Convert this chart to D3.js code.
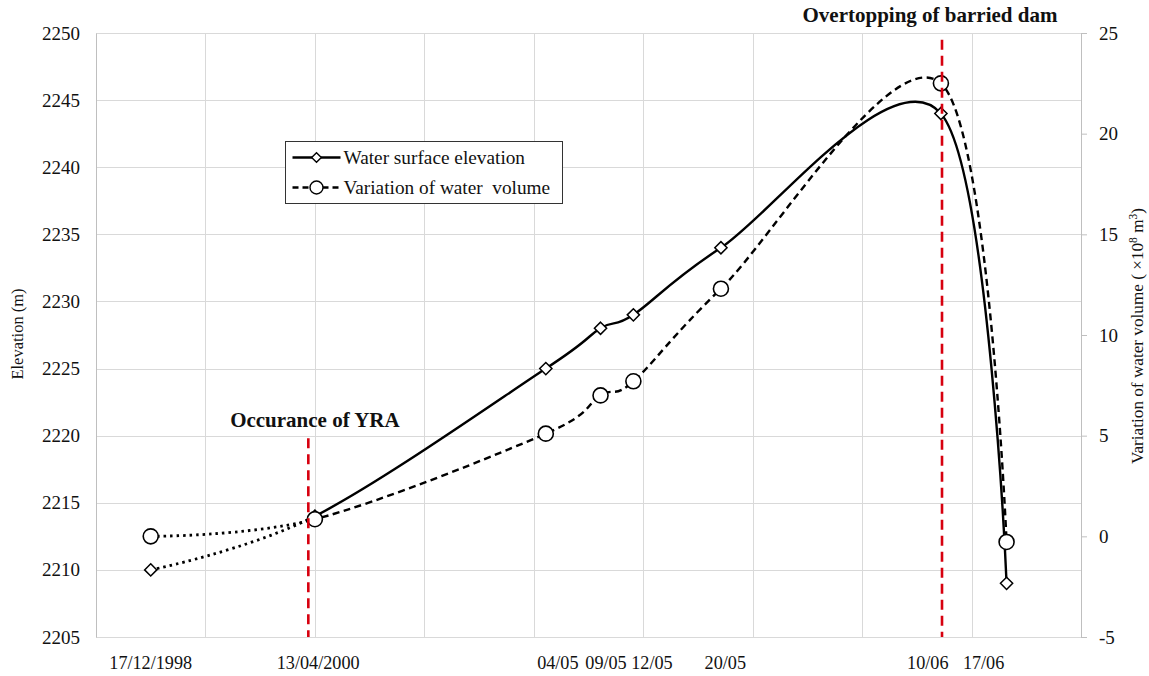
<!DOCTYPE html>
<html><head><meta charset="utf-8">
<script src="https://cdn.jsdelivr.net/npm/d3@7"></script>
<style>body{margin:0;background:#fff}</style>
</head><body><svg id="chart" width="1149" height="676"></svg>
<script>
// Yigong barrier lake: water level and stored volume
const seriesNames = ["Water surface elevation", "Variation of water volume"];
const positions = [0.5, 2.0, 4.11, 4.61, 4.91, 5.71, 7.72, 8.32];   // horizontal slot of each observation
const elevation = [2210, 2214, 2225, 2228, 2229, 2234, 2244, 2209]; // m
const volume = [0, 0.85, 5.1, 7.0, 7.7, 12.3, 22.5, -0.28];         // 10^8 m^3
const tickLabels = ["17/12/1998", "13/04/2000", "04/05", "09/05", "12/05", "20/05", "10/06", "17/06"];
const tickLabelPositions = [0.5, 2.03, 4.22, 4.66, 5.08, 5.75, 7.6, 8.11];
const elevationTicks = d3.range(2205, 2251, 5);
const volumeTicks = d3.range(-5, 26, 5);
const eventLabels = ["Occurance of YRA", "Overtopping of barried dam"];
const eventPositions = [1.94, 7.73];
const eventTops = [2219.8, 2249.5];

const svg = d3.select("#chart");
const font = "'Liberation Serif','Times New Roman',serif";
const plotLeft = 96, plotRight = 1081, plotTop = 33, plotBottom = 637;

const x = d3.scaleLinear().domain([0, 9]).range([plotLeft, plotRight]);
const yL = d3.scaleLinear().domain([2205, 2250]).range([plotBottom, plotTop]);
const yR = d3.scaleLinear().domain([-5, 25]).range([plotBottom, plotTop]);

// grid
const grid = svg.append("g").attr("stroke", "#d9d9d9").attr("stroke-width", 1);
grid.selectAll("line.h").data(elevationTicks).join("line")
  .attr("x1", plotLeft).attr("x2", plotRight)
  .attr("y1", d => Math.round(yL(d)) + 0.5).attr("y2", d => Math.round(yL(d)) + 0.5);
grid.selectAll("line.v").data(d3.range(0, 10)).join("line")
  .attr("y1", plotTop).attr("y2", plotBottom)
  .attr("x1", d => Math.round(x(d)) + 0.5).attr("x2", d => Math.round(x(d)) + 0.5);

// axes
const axL = svg.append("g").attr("transform", `translate(${plotLeft},0)`)
  .call(d3.axisLeft(yL).tickValues(elevationTicks).tickSize(0).tickPadding(16).tickFormat(d => String(d)));
const axR = svg.append("g").attr("transform", `translate(${plotRight},0)`)
  .call(d3.axisRight(yR).tickValues(volumeTicks).tickSize(6).tickPadding(12).tickFormat(d => String(d)));
[axL, axR].forEach(a => {
  a.attr("font-family", font);
  a.select(".domain").attr("stroke", "#bfbfbf");
  a.selectAll(".tick line").attr("stroke", "#bfbfbf");
  a.selectAll("text").attr("font-family", font).attr("font-size", 19).attr("fill", "#111");
});

// date labels
svg.append("g").selectAll("text").data(tickLabels).join("text")
  .attr("x", (d, i) => x(tickLabelPositions[i]))
  .attr("y", 669)
  .attr("text-anchor", "middle")
  .attr("font-family", font).attr("font-size", 18.2).attr("fill", "#111")
  .text(d => d);

// axis titles
svg.append("text")
  .attr("transform", `translate(23,334) rotate(-90)`)
  .attr("text-anchor", "middle").attr("font-family", font).attr("font-size", 16.5).attr("fill", "#111")
  .text("Elevation (m)");
const rt = svg.append("text")
  .attr("transform", `translate(1143,336) rotate(-90)`)
  .attr("text-anchor", "middle").attr("font-family", font).attr("font-size", 17.2).attr("fill", "#111");
rt.append("tspan").text("Variation of water volume ( \u00d710");
rt.append("tspan").attr("dy", -6).attr("font-size", 11.5).text("8");
rt.append("tspan").attr("dy", 6).text(" m");
rt.append("tspan").attr("dy", -6).attr("font-size", 11.5).text("3");
rt.append("tspan").attr("dy", 6).text(")");

// curves
const curve = d3.curveCatmullRom.alpha(0);
const lineL = d3.line().x((d, i) => x(positions[i])).y(d => yL(d)).curve(curve);
const lineR = d3.line().x((d, i) => x(positions[i])).y(d => yR(d)).curve(curve);

const defs = svg.append("defs");
defs.append("clipPath").attr("id", "early").append("rect")
  .attr("x", 0).attr("y", 0).attr("width", x(positions[1])).attr("height", 676);
defs.append("clipPath").attr("id", "late").append("rect")
  .attr("x", x(positions[1])).attr("y", 0).attr("width", 1149).attr("height", 676);

const curves = svg.append("g").attr("fill", "none").attr("stroke", "#000");
// dotted lead-in before the landslide
curves.append("path").attr("d", lineL(elevation)).attr("clip-path", "url(#early)")
  .attr("stroke-width", 2.8).attr("stroke-dasharray", "2.5,4");
curves.append("path").attr("d", lineR(volume)).attr("clip-path", "url(#early)")
  .attr("stroke-width", 2.8).attr("stroke-dasharray", "2.5,4");
curves.append("path").attr("d", lineL(elevation)).attr("clip-path", "url(#late)")
  .attr("stroke-width", 2.4);
curves.append("path").attr("d", lineR(volume)).attr("clip-path", "url(#late)")
  .attr("stroke-width", 2.4).attr("stroke-dasharray", "7,4.5");

// markers
const diamond = d3.symbol().type(d3.symbolDiamond2).size(95);
svg.append("g").selectAll("path").data(elevation).join("path")
  .attr("d", diamond)
  .attr("transform", (d, i) => `translate(${x(positions[i])},${yL(d)})`)
  .attr("fill", "#fff").attr("stroke", "#000").attr("stroke-width", 1.5);
svg.append("g").selectAll("circle").data(volume).join("circle")
  .attr("cx", (d, i) => x(positions[i])).attr("cy", d => yR(d)).attr("r", 7.5)
  .attr("fill", "#fff").attr("stroke", "#000").attr("stroke-width", 1.6);

// event markers
const ev = svg.append("g");
ev.selectAll("line").data(eventPositions).join("line")
  .attr("x1", d => x(d)).attr("x2", d => x(d))
  .attr("y1", (d, i) => yL(eventTops[i])).attr("y2", plotBottom)
  .attr("stroke", "#d7000f").attr("stroke-width", 2.6).attr("stroke-dasharray", "10,6");
ev.append("text").attr("x", x(2.0)).attr("y", 427).attr("text-anchor", "middle")
  .attr("font-family", font).attr("font-weight", "bold").attr("font-size", 21).attr("fill", "#111")
  .text(eventLabels[0]);
ev.append("text").attr("x", x(7.62)).attr("y", 22).attr("text-anchor", "middle")
  .attr("font-family", font).attr("font-weight", "bold").attr("font-size", 21).attr("fill", "#111")
  .text(eventLabels[1]);

// legend
const lg = svg.append("g").attr("transform", "translate(285.5,141.5)");
lg.append("rect").attr("width", 277).attr("height", 62).attr("fill", "#fff").attr("stroke", "#333").attr("stroke-width", 1);
const rows = lg.selectAll("g").data(seriesNames).join("g")
  .attr("transform", (d, i) => `translate(0,${16 + i * 30})`);
rows.append("line").attr("x1", 7).attr("x2", 55).attr("y1", 0).attr("y2", 0)
  .attr("stroke", "#000").attr("stroke-width", 2.3)
  .attr("stroke-dasharray", (d, i) => i ? "6,4" : null);
rows.filter((d, i) => i === 0).append("path").attr("d", d3.symbol().type(d3.symbolDiamond2).size(60))
  .attr("transform", "translate(31,0)").attr("fill", "#fff").attr("stroke", "#000").attr("stroke-width", 1.4);
rows.filter((d, i) => i === 1).append("circle").attr("cx", 31).attr("r", 6.5)
  .attr("fill", "#fff").attr("stroke", "#000").attr("stroke-width", 1.4);
rows.append("text").attr("x", 58).attr("y", 6)
  .attr("font-family", font).attr("font-size", 19.3).attr("fill", "#111")
  .style("white-space", "pre")
  .text((d, i) => i ? "Variation of water  volume" : d);
</script>
</body></html>
